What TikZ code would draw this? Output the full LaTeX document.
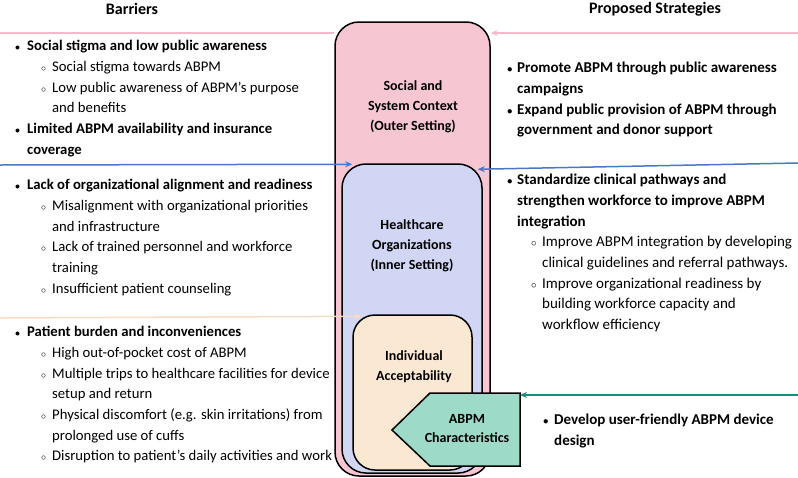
\documentclass[tikz,border=0pt]{standalone}
\usepackage{fontspec}
\setmainfont{Carlito}
\usetikzlibrary{arrows.meta, calc}

\definecolor{outerfill}{HTML}{F7C6D3}
\definecolor{innerfill}{HTML}{D1D6F5}
\definecolor{indivfill}{HTML}{FBE8D2}
\definecolor{abpmfill}{HTML}{9DDAC7}
\definecolor{outerline}{HTML}{F5B9C9}
\definecolor{innerline}{HTML}{4A78C8}
\definecolor{indivline}{HTML}{F8DCC4}
\definecolor{abpmline}{HTML}{1F8B7A}

% list lines: bullet item, its continuation, sub item, its continuation
\newcommand{\bitem}[2]{\strut\makebox[#1][l]{$\scriptstyle\bullet$}\textbf{#2}}
\newcommand{\bcont}[2]{\strut\hspace*{#1}\textbf{#2}}
\newcommand{\sitem}[2]{\strut\hspace*{#1}\makebox[11pt][l]{$\scriptstyle\circ$}#2}
\newcommand{\scont}[2]{\strut\hspace*{#1}#2}

\tikzset{
  box/.style={draw, line width=1.5pt, rounded corners=24pt, inner sep=0pt},
  lbl/.style={align=center, font=\bfseries\fontsize{14}{20}\selectfont},
  hdr/.style={font=\bfseries\fontsize{16}{18}\selectfont},
  txt/.style={anchor=north west, inner sep=0pt, align=left, font=\fontsize{15}{20.7}\selectfont},
  lefttxt/.style={txt, font=\fontsize{14.7}{20.7}\selectfont},
  link/.style={line width=1.5pt},
  arr/.style={link, -{Stealth[length=7pt, width=6pt]}}
}

\begin{document}
\begin{tikzpicture}[x=1pt, y=-1pt]
  \useasboundingbox (0,0) rectangle (798,477);

  % nested settings
  \node[box, fill=outerfill, minimum width=155pt, minimum height=454pt] (outer) at (412.5,249) {};
  \node[box, fill=innerfill, minimum width=140pt, minimum height=309pt] (inner) at (412,318.5) {};
  \node[box, fill=indivfill, minimum width=119pt, minimum height=155pt, rounded corners=22pt] (indiv) at (412.5,392.5) {};
  \coordinate (abpmNE) at (520,393);
  \draw[line width=1.5pt, fill=abpmfill] (430,393) -- (abpmNE) -- (520,466) -- (430,466) -- (392,430) -- cycle;

  \node[lbl] (outerlbl) at (413,107) {Social and\\System Context\\(Outer Setting)};
  \node[lbl] (innerlbl) at (412,246) {Healthcare\\Organizations\\(Inner Setting)};
  \node[lbl] (indivlbl) at (414,367) {Individual\\Acceptability};
  \node[lbl, font=\bfseries\fontsize{14}{19}\selectfont] (abpm) at (467,429) {ABPM\\Characteristics};

  % headings
  \node[hdr] (barhdr) at (132,9) {Barriers};
  \node[hdr] (strathdr) at (655,9) {Proposed Strategies};

  % connectors
  \coordinate (outerL) at (0,33);
  \coordinate (outerR) at (798,33);
  \coordinate (innerL) at (0,165);
  \coordinate (innerR) at (798,163);
  \coordinate (indivL) at (0,318);
  \coordinate (abpmR) at (798,395);
  \draw[link, outerline] (outerL) -- (outerL -| outer.west);
  \draw[arr, outerline] (outerR) -- (outerR -| outer.east);
  \draw[arr, innerline] (innerL) -- ($(inner.north west)+(11,1)$);
  \draw[arr, innerline] (innerR) -- ($(inner.north east)+(-5,6)$);
  \draw[arr, indivline] (indivL) -- ($(indiv.north west)+(9,2)$);
  \draw[arr, abpmline] (abpmR) -- (abpmR -| abpmNE);

  % barriers
  \node[lefttxt] (barA) at (15,36) {%
    \bitem{12pt}{Social stigma and low public awareness}\\
    \sitem{26pt}{Social stigma towards ABPM}\\
    \sitem{26pt}{Low public awareness of ABPM's purpose}\\
    \scont{37pt}{and benefits}\\
    \bitem{12pt}{Limited ABPM availability and insurance}\\
    \bcont{12pt}{coverage}};
  \node[lefttxt] (barB) at (15,175) {%
    \bitem{12pt}{Lack of organizational alignment and readiness}\\
    \sitem{26pt}{Misalignment with organizational priorities}\\
    \scont{37pt}{and infrastructure}\\
    \sitem{26pt}{Lack of trained personnel and workforce}\\
    \scont{37pt}{training}\\
    \sitem{26pt}{Insufficient patient counseling}};
  \node[lefttxt] (barC) at (15,322) {%
    \bitem{12pt}{Patient burden and inconveniences}\\
    \sitem{26pt}{High out-of-pocket cost of ABPM}\\
    \sitem{26pt}{Multiple trips to healthcare facilities for device}\\
    \scont{37pt}{setup and return}\\
    \sitem{26pt}{Physical discomfort (e.g. skin irritations) from}\\
    \scont{37pt}{prolonged use of cuffs}\\
    \sitem{26pt}{Disruption to patient's daily activities and work}};

  % strategies
  \node[txt] (stratA) at (507,58) {%
    \bitem{10pt}{Promote ABPM through public awareness}\\
    \bcont{10pt}{campaigns}\\
    \bitem{10pt}{Expand public provision of ABPM through}\\
    \bcont{10pt}{government and donor support}};
  \node[txt] (stratB) at (507,170) {%
    \bitem{10pt}{Standardize clinical pathways and}\\
    \bcont{10pt}{strengthen workforce to improve ABPM}\\
    \bcont{10pt}{integration}\\
    \sitem{24pt}{Improve ABPM integration by developing}\\
    \scont{35pt}{clinical guidelines and referral pathways.}\\
    \sitem{24pt}{Improve organizational readiness by}\\
    \scont{35pt}{building workforce capacity and}\\
    \scont{35pt}{workflow efficiency}};
  \node[txt] (stratC) at (543,410) {%
    \bitem{11pt}{Develop user-friendly ABPM device}\\
    \bcont{11pt}{design}};
\end{tikzpicture}
\end{document}
